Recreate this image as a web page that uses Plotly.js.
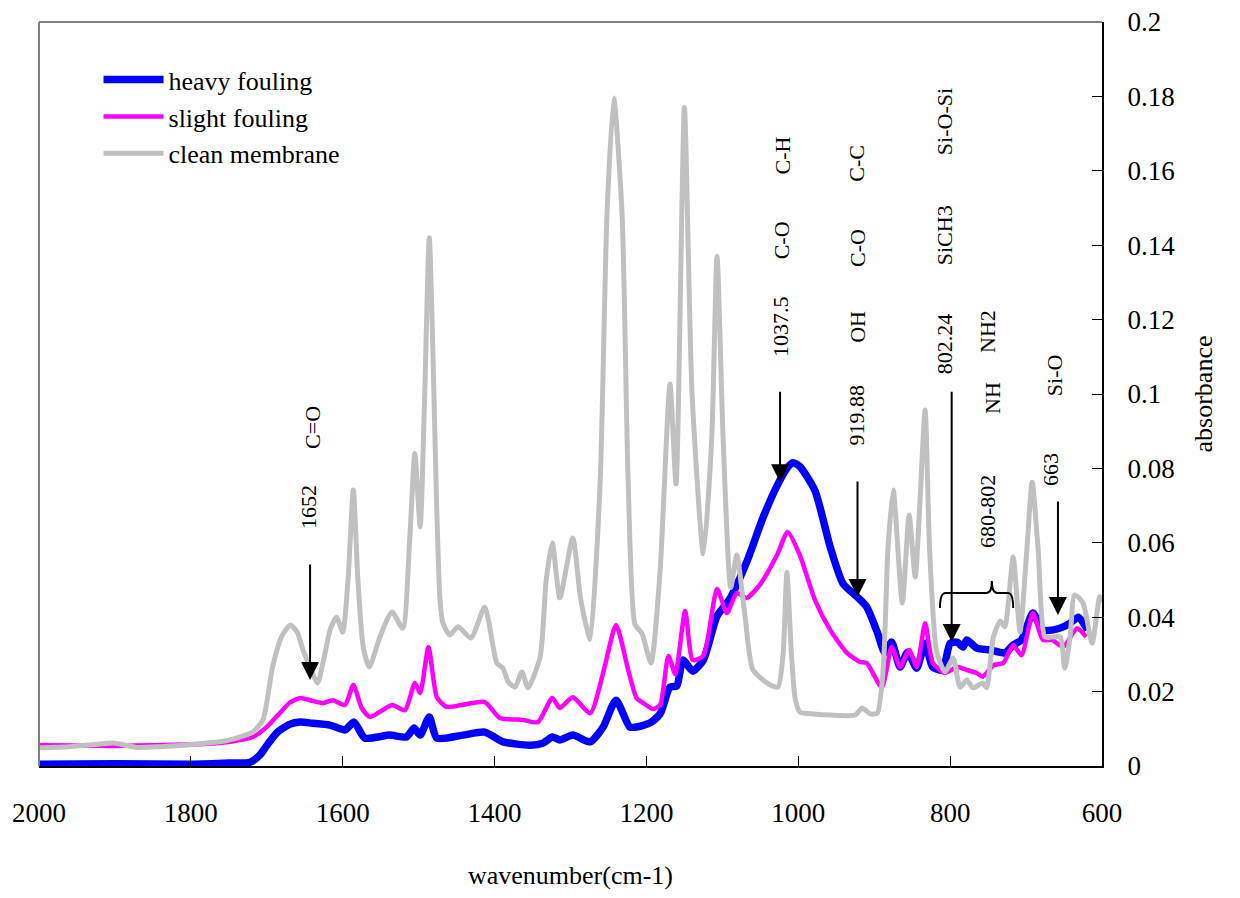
<!DOCTYPE html>
<html>
<head>
<meta charset="utf-8">
<script src="https://cdn.plot.ly/plotly-3.0.1.min.js"></script>
<style>html,body{margin:0;padding:0;background:#fff;}#chart{width:1240px;height:898px;}</style>
</head>
<body>
<div id="chart"></div>
<script>
// ---- data (wavenumber cm-1, absorbance) ----
const seriesNames = ["heavy fouling", "slight fouling", "clean membrane"];

const wnHeavy = [2000,1900,1800,1750,1722,1709,1700,1687,1670,1656,1640,1617,1597,1585,1571,1538,1516,1506,1498,1486,1476,1442,1413,1389,1353,1336,1324,1314,1297,1274,1257,1240,1222,1213,1195,1182,1169,1160,1152,1139,1125,1107,1090,1068,1046,1028,1015,1007,998,978,958,941,921,910,896,886,877,866,856,844,833,823,810,800,791,783,778,765,748,728,717,706,691,678,664,651,642,631,619];
const absHeavy = [0.0005,0.0006,0.0005,0.0008,0.001,0.003,0.0055,0.0089,0.0112,0.0118,0.0115,0.011,0.0097,0.0118,0.0075,0.0083,0.0078,0.0102,0.0083,0.0132,0.0075,0.0083,0.0091,0.0065,0.0056,0.0062,0.0078,0.007,0.0083,0.0065,0.0105,0.0177,0.0105,0.0105,0.0116,0.014,0.0212,0.0215,0.0285,0.0255,0.0285,0.0403,0.045,0.0548,0.067,0.0753,0.080,0.0815,0.0805,0.074,0.0589,0.049,0.0452,0.0428,0.036,0.0304,0.0333,0.0266,0.0306,0.0263,0.033,0.0266,0.0258,0.033,0.0333,0.032,0.0339,0.0317,0.0312,0.0304,0.0325,0.0339,0.0411,0.0366,0.0366,0.0374,0.0384,0.040,0.0366];

const wnSlight = [2000,1950,1900,1850,1800,1762,1748,1718,1700,1683,1670,1656,1640,1626,1613,1597,1586,1575,1564,1535,1518,1505,1498,1487,1476,1463,1413,1393,1363,1343,1324,1314,1297,1274,1257,1240,1224,1213,1204,1191,1182,1171,1162,1149,1139,1125,1107,1094,1081,1068,1050,1028,1014,998,978,958,936,919,910,890,877,866,854,844,833,823,807,791,778,765,757,743,730,717,706,691,678,666,651,633,621];
const absSlight = [0.0056,0.0055,0.0054,0.0056,0.0058,0.0062,0.0065,0.0078,0.0105,0.0142,0.017,0.0183,0.0175,0.0169,0.0177,0.0164,0.0218,0.0156,0.0132,0.0164,0.015,0.0223,0.0196,0.032,0.0185,0.0159,0.0172,0.0129,0.0124,0.0118,0.0183,0.0156,0.0185,0.0142,0.025,0.0379,0.0258,0.0183,0.0169,0.0153,0.0164,0.0296,0.0247,0.0417,0.0285,0.0296,0.0476,0.0411,0.0465,0.0452,0.0489,0.0567,0.0629,0.0567,0.0446,0.0366,0.0304,0.028,0.0277,0.0212,0.032,0.0266,0.0312,0.0266,0.0384,0.0277,0.025,0.0266,0.0258,0.025,0.024,0.0271,0.0277,0.0325,0.0298,0.0411,0.0339,0.0339,0.032,0.037,0.0347];

const wnClean = [2000,1960,1930,1902,1871,1840,1814,1790,1762,1740,1718,1705,1692,1680,1669,1660,1652,1642,1633,1626,1616,1608,1600,1593,1586,1580,1573,1565,1551,1535,1521,1512,1505,1498,1492,1486,1476,1472,1468,1459,1448,1431,1413,1397,1389,1382,1373,1364,1356,1340,1332,1324,1314,1297,1287,1278,1274,1261,1252,1243,1232,1224,1215,1206,1194,1182,1169,1161,1150,1140,1125,1114,1107,1099,1089,1081,1070,1060,1041,1027,1020,1015,1009,1004,998,980,958,925,916,905,896,888,882,875,863,854,846,840,833,827,818,807,796,787,778,770,757,752,743,734,728,717,708,699,692,684,675,664,655,649,642,636,625,613,603,600];
const absClean = [0.0049,0.0052,0.0057,0.0062,0.0050,0.0052,0.0055,0.0060,0.0065,0.0075,0.0092,0.0124,0.027,0.035,0.0379,0.036,0.031,0.026,0.0223,0.0277,0.037,0.040,0.036,0.050,0.0742,0.050,0.032,0.0266,0.0347,0.0414,0.037,0.060,0.084,0.0643,0.10,0.142,0.068,0.045,0.0384,0.0352,0.0374,0.0344,0.0427,0.0277,0.0263,0.0226,0.0212,0.0253,0.021,0.0293,0.050,0.060,0.0452,0.0613,0.0454,0.0366,0.034,0.076,0.148,0.1796,0.148,0.076,0.038,0.0357,0.0277,0.0524,0.1027,0.0758,0.177,0.1005,0.057,0.088,0.137,0.088,0.048,0.0567,0.040,0.026,0.0223,0.0212,0.030,0.052,0.030,0.018,0.0145,0.014,0.0137,0.0137,0.0156,0.014,0.0142,0.0266,0.058,0.0742,0.0438,0.0675,0.0508,0.070,0.0957,0.058,0.031,0.0253,0.029,0.0212,0.0231,0.021,0.0223,0.021,0.0347,0.039,0.0374,0.0562,0.036,0.058,0.0763,0.058,0.0347,0.0347,0.0347,0.0263,0.0347,0.046,0.0438,0.033,0.0455,0.044];

const xTickVals = [2000,1800,1600,1400,1200,1000,800,600];

// peak labels (text, wavenumber, absorbance position)
const labelTexts = ["C=O","1652","C-H","C-O","1037.5","C-C","C-O","OH","919.88","Si-O-Si","SiCH3","802.24","NH2","NH","680-802","Si-O","663"];
const labelWn    = [1639,1646,1021,1021,1024,923,923,923,923,808,808,808,750,745,750,663,667];
const labelAbs   = [0.0909,0.0696,0.1642,0.1414,0.118,0.1621,0.1392,0.118,0.0944,0.1731,0.1427,0.1134,0.1167,0.0989,0.0683,0.1051,0.0796];

// arrows: tip wavenumber, tip absorbance, tail absorbance
const arrowWn      = [1643,1024,922,798,658];
const arrowTipAbs  = [0.0231,0.0763,0.0454,0.0333,0.0406];
const arrowTailAbs = [0.0546,0.101,0.0769,0.101,0.0715];

const colors = ["#0000FF","#FF00FF","#C0C0C0"];
const widths = [7.5,4.5,5];
const xs = [wnHeavy, wnSlight, wnClean];
const ys = [absHeavy, absSlight, absClean];

const traces = seriesNames.map((n,i)=>({
  x: xs[i], y: ys[i], name: n, type: "scatter", mode: "lines",
  line: {color: colors[i], width: widths[i], shape: "spline", smoothing: 0.6}
}));

const FONT = "Liberation Serif, Times New Roman, serif";

const annotations = [];
labelTexts.forEach((t,i)=>{
  annotations.push({x: labelWn[i], y: labelAbs[i], xref:"x", yref:"y", text: t, showarrow:false,
    textangle:-90, font:{family:FONT, size:22, color:"#000"}});
});
arrowWn.forEach((w,i)=>{
  annotations.push({x: w, y: arrowTipAbs[i], xref:"x", yref:"y", ax: w, ay: arrowTailAbs[i], axref:"x", ayref:"y",
    text:"", showarrow:true, arrowhead:2, arrowsize:1.8, arrowwidth:2, arrowcolor:"#000"});
});

const shapes = [
  {type:"line", xref:"paper", yref:"paper", x0:0, x1:0, y0:0, y1:1, line:{color:"#808080", width:2}},
  {type:"line", xref:"paper", yref:"paper", x0:0, x1:1, y0:1, y1:1, line:{color:"#808080", width:2}},
  {type:"path", xref:"x", yref:"y",
   path:"M813.4,0.0425 Q813.4,0.0465 806,0.0465 L752,0.0465 Q745,0.0465 745,0.0497 Q745,0.0465 738,0.0465 L724,0.0465 Q717,0.0465 717,0.0425",
   line:{color:"#000", width:2}}
];

const layout = {
  width:1240, height:898,
  margin:{l:39, r:138, t:22, b:132},
  paper_bgcolor:"#fff", plot_bgcolor:"#fff",
  font:{family:FONT, color:"#000"},
  showlegend:true,
  legend:{x:0.056, y:0.954, xanchor:"left", yanchor:"top", bgcolor:"rgba(0,0,0,0)", borderwidth:0,
    font:{family:FONT, size:26, color:"#000"}, itemwidth:60},
  xaxis:{range:[2000,600], tickvals:xTickVals, ticktext:xTickVals.map(String), showgrid:false, zeroline:false,
    showline:true, linecolor:"#000", linewidth:2, ticks:"inside", ticklen:10, tickcolor:"#000", tickwidth:1,
    tickfont:{family:FONT, size:27, color:"#000"}, ticklabelstandoff:22,
    title:{text:"wavenumber(cm-1)", font:{family:FONT, size:26, color:"#000"}, standoff:38}},
  yaxis:{range:[0,0.2], dtick:0.02, side:"right", showgrid:false, zeroline:false,
    showline:true, linecolor:"#000", linewidth:2, ticks:"inside", ticklen:10, tickcolor:"#000", tickwidth:1,
    tickfont:{family:FONT, size:27, color:"#000"}, ticklabelstandoff:18,
    title:{text:"absorbance", font:{family:FONT, size:26, color:"#000"}, standoff:20}},
  annotations: annotations,
  shapes: shapes
};

Plotly.newPlot("chart", traces, layout, {staticPlot:true, displayModeBar:false});
</script>
</body>
</html>
